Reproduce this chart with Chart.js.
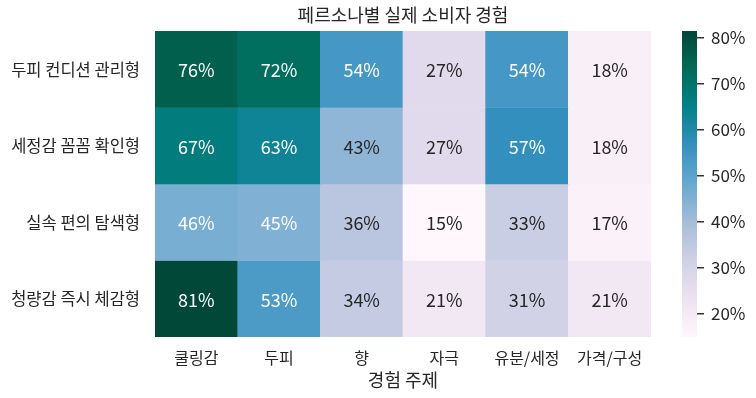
<!DOCTYPE html>
<html>
<head>
<meta charset="utf-8">
<script src="https://cdn.jsdelivr.net/npm/chart.js@4/dist/chart.umd.min.js"></script>
<style>
  html, body { margin: 0; padding: 0; background: #ffffff; }
  #wrap { position: relative; width: 756px; height: 398px; overflow: hidden; }
  #main { position: absolute; left: 0; top: 0; }
  #cbar { position: absolute; left: 670px; top: 0; }
</style>
</head>
<body>
<div id="wrap">
  <canvas id="main" width="756" height="398"></canvas>
  <canvas id="cbar" width="86" height="398"></canvas>
</div>
<script>
// ---- data ----
const chartTitle = '페르소나별 실제 소비자 경험';
const xAxisTitle = '경험 주제';
const topics = ['쿨링감', '두피', '향', '자극', '유분/세정', '가격/구성'];
const personas = ['두피 컨디션 관리형', '세정감 꼼꼼 확인형', '실속 편의 탐색형', '청량감 즉시 체감형'];
const scalpCare = [76, 72, 54, 27, 54, 18];
const cleanCheck = [67, 63, 43, 27, 57, 18];
const valueSeek = [46, 45, 36, 15, 33, 17];
const coolingFeel = [81, 53, 34, 21, 31, 21];
const rows = [scalpCare, cleanCheck, valueSeek, coolingFeel];
const colorbarTicks = [20, 30, 40, 50, 60, 70, 80];
const colorMin = 15;
const colorMax = 81.5;
const pubugn = ['#fff7fb', '#ece2f0', '#d0d1e6', '#a6bddb', '#67a9cf', '#3690c0', '#02818a', '#016c59', '#014636'];

const FONT = "'Noto Sans CJK KR', 'Noto Sans', sans-serif";
const TEXT = '#262626';

function hexToRgb(h) {
  return [parseInt(h.slice(1, 3), 16), parseInt(h.slice(3, 5), 16), parseInt(h.slice(5, 7), 16)];
}
const stops = pubugn.map(hexToRgb);
function cmap(v) {
  let t = (v - colorMin) / (colorMax - colorMin);
  t = Math.max(0, Math.min(1, t));
  const pos = t * (stops.length - 1);
  const i = Math.min(Math.floor(pos), stops.length - 2);
  const f = pos - i;
  const a = stops[i], b = stops[i + 1];
  return [0, 1, 2].map(k => Math.round(a[k] + (b[k] - a[k]) * f));
}
function rgbStr(c) { return 'rgb(' + c.join(',') + ')'; }
function textColorFor(c) {
  const lin = c.map(x => { x /= 255; return x <= 0.03928 ? x / 12.92 : Math.pow((x + 0.055) / 1.055, 2.4); });
  const lum = 0.2126 * lin[0] + 0.7152 * lin[1] + 0.0722 * lin[2];
  return lum > 0.408 ? TEXT : '#ffffff';
}

const datasets = rows.map((vals, r) => ({
  label: personas[r],
  data: vals.map(() => [r - 0.5, r + 0.5]),
  values: vals,
  backgroundColor: vals.map(v => rgbStr(cmap(v))),
  borderWidth: 0,
  barPercentage: 1.0,
  categoryPercentage: 1.0,
  grouped: false
}));

const annotate = {
  id: 'annotate',
  afterDatasetsDraw(chart) {
    const ctx = chart.ctx;
    ctx.save();
    ctx.font = '18px ' + FONT;
    ctx.textAlign = 'center';
    ctx.textBaseline = 'middle';
    chart.data.datasets.forEach((ds, i) => {
      const meta = chart.getDatasetMeta(i);
      meta.data.forEach((el, j) => {
        const v = ds.values[j];
        ctx.fillStyle = textColorFor(cmap(v));
        ctx.fillText(v + '%', el.x, (el.y + el.base) / 2 + 1);
      });
    });
    ctx.restore();
  }
};

new Chart(document.getElementById('main'), {
  type: 'bar',
  data: { labels: topics, datasets },
  options: {
    responsive: false,
    animation: false,
    layout: { padding: { left: 0, right: 105, top: 0, bottom: 0 } },
    plugins: {
      legend: { display: false },
      tooltip: { enabled: false },
      title: {
        display: true,
        text: chartTitle,
        fullSize: false,
        color: TEXT,
        font: { family: FONT, size: 18, weight: 'normal' },
        padding: { top: 4, bottom: 5.4 }
      }
    },
    scales: {
      x: {
        type: 'category',
        offset: true,
        grid: { display: false, drawTicks: false },
        border: { display: false },
        afterFit(scale) { scale.height = 61; },
        ticks: { color: TEXT, font: { family: FONT, size: 16 }, padding: 11, maxRotation: 0 },
        title: { display: true, text: xAxisTitle, color: TEXT, font: { family: FONT, size: 18 }, padding: { top: 0, bottom: 7 } }
      },
      y: {
        type: 'linear',
        reverse: true,
        min: -0.5,
        max: 3.5,
        grid: { display: false, drawTicks: false },
        border: { display: false },
        afterBuildTicks(scale) { scale.ticks = personas.map((_, i) => ({ value: i })); },
        afterFit(scale) { scale.width = 155; },
        ticks: {
          color: TEXT,
          font: { family: FONT, size: 16.5 },
          padding: 15,
          callback: (v) => personas[v]
        }
      }
    }
  },
  plugins: [annotate]
});

// ---- colorbar ----
new Chart(document.getElementById('cbar'), {
  type: 'bar',
  data: {
    labels: [''],
    datasets: [{
      data: [[colorMin, colorMax]],
      borderWidth: 0,
      barPercentage: 1.0,
      categoryPercentage: 1.0,
      backgroundColor(context) {
        const chart = context.chart;
        const area = chart.chartArea;
        if (!area) return pubugn[4];
        const g = chart.ctx.createLinearGradient(0, area.bottom, 0, area.top);
        pubugn.forEach((c, k) => g.addColorStop(k / (pubugn.length - 1), c));
        return g;
      }
    }]
  },
  options: {
    responsive: false,
    animation: false,
    layout: { padding: { left: 12, right: 0, top: 31, bottom: 61 } },
    plugins: { legend: { display: false }, tooltip: { enabled: false }, title: { display: false } },
    scales: {
      x: { display: false, offset: true },
      y: {
        type: 'linear',
        position: 'right',
        min: colorMin,
        max: colorMax,
        border: { display: false },
        grid: { display: true, drawOnChartArea: false, drawTicks: true, tickLength: 7, tickColor: '#333333', lineWidth: 1.5 },
        afterBuildTicks(scale) { scale.ticks = colorbarTicks.map(v => ({ value: v })); },
        afterFit(scale) { scale.width = 59; },
        ticks: { color: TEXT, font: { family: FONT, size: 17 }, padding: 7, callback: (v) => v + '%' }
      }
    }
  }
});
</script>
</body>
</html>
